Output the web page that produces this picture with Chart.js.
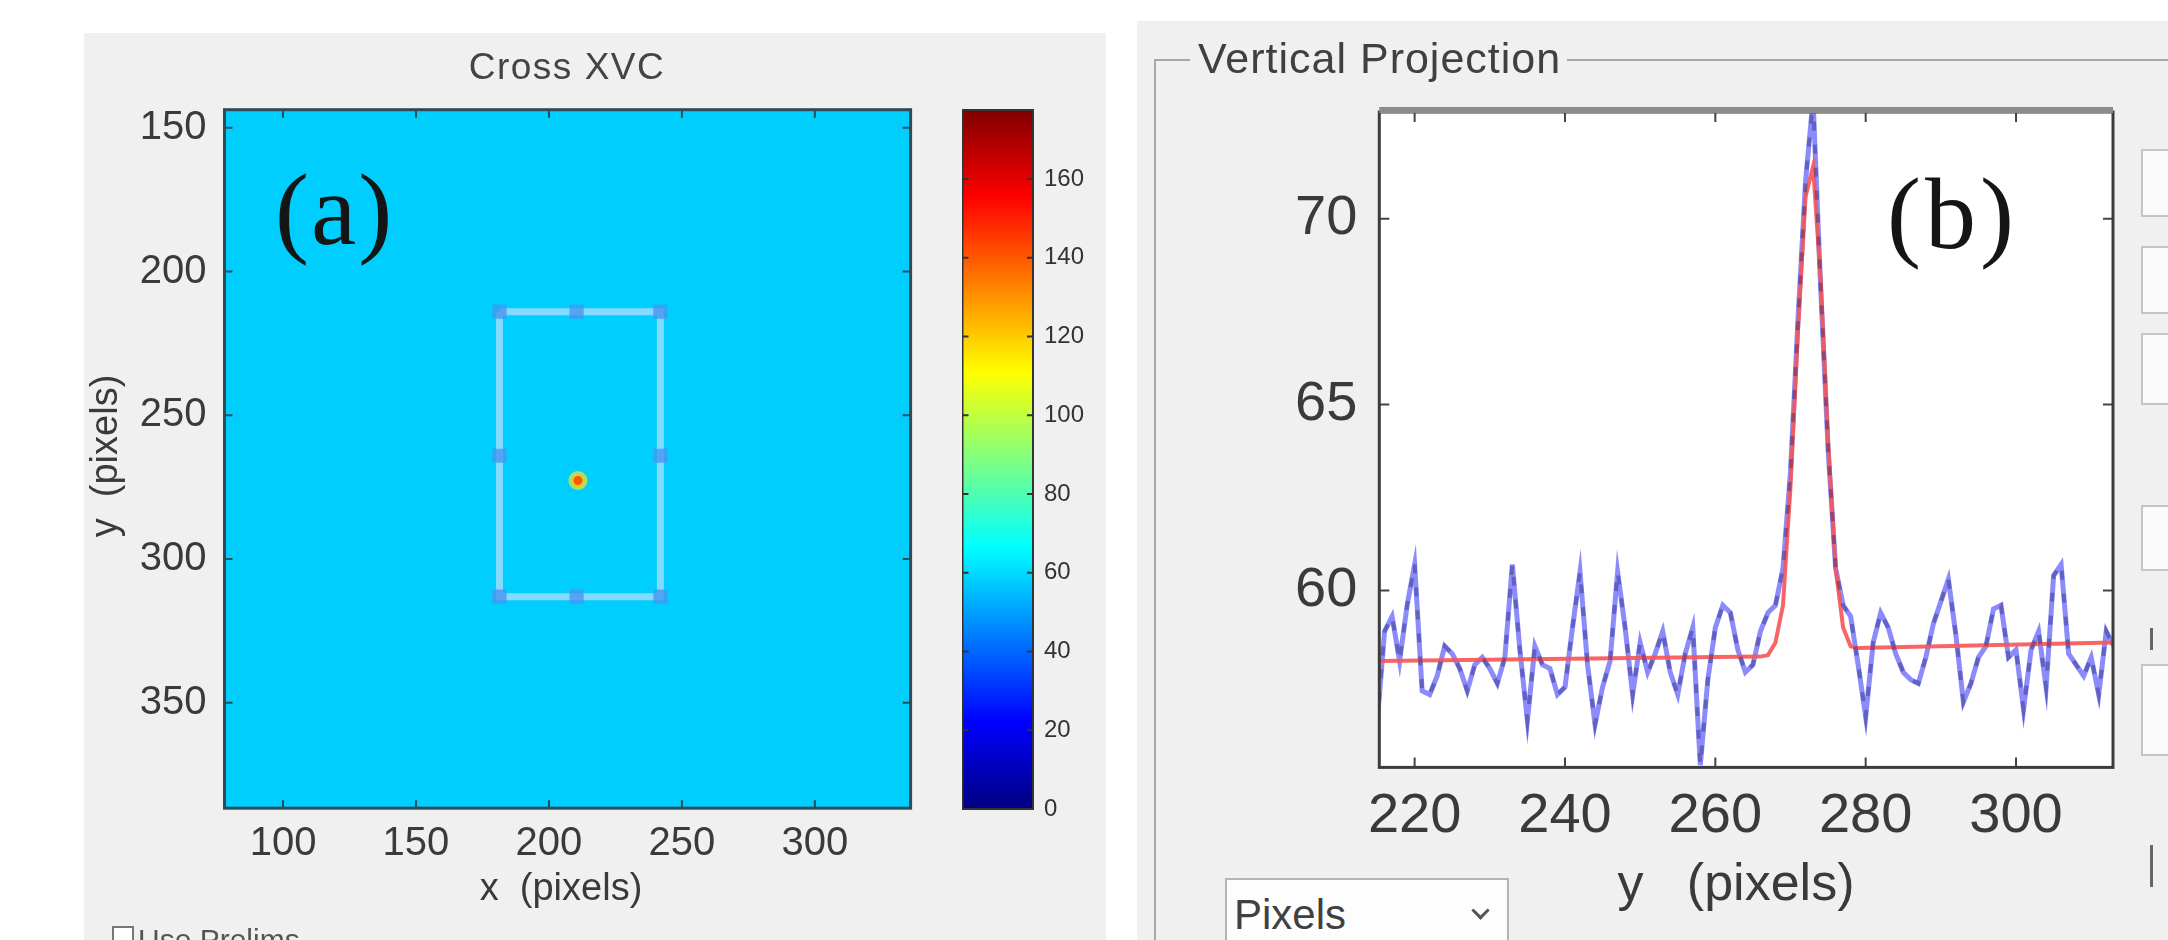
<!DOCTYPE html>
<html>
<head>
<meta charset="utf-8">
<script src="https://cdn.jsdelivr.net/npm/chart.js@4.4.1/dist/chart.umd.min.js"></script>
<style>
  body { margin: 0; width: 2168px; height: 940px; background: #fff; overflow: hidden; position: relative; font-family: "Liberation Sans", Arial, sans-serif; color: #3a3a3a; }
  .abs { position: absolute; }
  .t { position: absolute; white-space: pre; z-index: 5; }
  #leftPanel { left: 84px; top: 33px; width: 1022px; height: 907px; background: #f0f0f0; }
  #rightPanel { left: 1137px; top: 21px; width: 1031px; height: 919px; background: #f0f0f0; }
  #groupTop { left: 1154px; top: 59px; width: 1014px; height: 0; border-top: 2px solid #a8a8a8; }
  #groupLeft { left: 1154px; top: 59px; width: 0; height: 881px; border-left: 2px solid #a8a8a8; }
  .edit { position: absolute; left: 2141px; width: 60px; background: #fbfbfb; border: 2px solid #c4c4c4; }
  .serif { font-family: "Liberation Serif", "Times New Roman", serif; color: #151515; }
</style>
</head>
<body>
<div id="leftPanel" class="abs"></div>
<div id="rightPanel" class="abs"></div>
<div id="groupTop" class="abs"></div>
<div id="groupLeft" class="abs"></div>

<div class="abs" style="left:86px;top:35px;width:880px;height:905px;"><canvas id="heat" width="880" height="905"></canvas></div>
<div class="abs" style="left:962px;top:35px;width:144px;height:905px;"><canvas id="cbar" width="144" height="905"></canvas></div>
<div class="abs" style="left:1154px;top:60px;width:1014px;height:880px;"><canvas id="proj" width="1014" height="880"></canvas></div>

<div class="t" style="left:367px;top:42px;width:400px;height:50px;line-height:50px;text-align:center;font-size:37px;letter-spacing:1.5px;color:#444;">Cross XVC</div>
<div class="t" style="left:411px;top:865px;width:300px;height:44px;line-height:44px;text-align:center;font-size:38px;">x  (pixels)</div>
<div class="t" style="left:-46px;top:434px;width:300px;height:44px;line-height:44px;text-align:center;font-size:38px;transform:rotate(-90deg);">y  (pixels)</div>
<div class="t serif" style="left:275px;top:150px;width:200px;height:120px;line-height:120px;font-size:102px;letter-spacing:2px;">(a)</div>

<div class="t" style="left:1190px;top:35px;height:46px;line-height:46px;font-size:43px;letter-spacing:1px;padding:0 6px 0 8px;background:#f0f0f0;color:#404040;">Vertical Projection</div>
<div class="t" style="left:1536px;top:852px;width:400px;height:60px;line-height:60px;text-align:center;font-size:52px;">y   (pixels)</div>
<div class="t serif" style="left:1887px;top:154px;width:200px;height:120px;line-height:120px;font-size:102px;letter-spacing:4px;">(b)</div>

<div class="abs" style="left:1225px;top:878px;width:280px;height:80px;background:#fdfdfd;border:2px solid #b4b4b4;"></div>
<div class="t" style="left:1234px;top:893px;height:44px;line-height:44px;font-size:42px;color:#404040;">Pixels</div>
<div class="abs" style="left:1474px;top:904px;width:10px;height:10px;border-right:3px solid #555;border-bottom:3px solid #555;transform:rotate(45deg);"></div>

<div class="abs" style="left:112px;top:926px;width:18px;height:18px;border:2px solid #777;background:#fff;"></div>
<div class="t" style="left:138px;top:920px;height:40px;line-height:40px;font-size:30px;color:#555;">Use Prelims</div>

<div class="edit" style="top:149px;height:64px;"></div>
<div class="edit" style="top:246px;height:64px;"></div>
<div class="edit" style="top:333px;height:68px;"></div>
<div class="edit" style="top:505px;height:62px;"></div>
<div class="abs" style="left:2150px;top:628px;width:3px;height:22px;background:#666;"></div>
<div class="edit" style="top:664px;height:88px;"></div>
<div class="abs" style="left:2150px;top:845px;width:3px;height:42px;background:#666;"></div>

<script>
const heatXRange = [78, 336];
const heatYRange = [143.7, 386.7];
const heatXTicks = [100, 150, 200, 250, 300];
const heatYTicks = [150, 200, 250, 300, 350];
const fieldLevel = 58;

const roiX = [181.4, 241.9, 241.9, 181.4, 181.4];
const roiY = [214, 214, 313.1, 313.1, 214];
const handleX = [181.4, 210.4, 241.9, 181.4, 241.9, 181.4, 210.4, 241.9];
const handleY = [214, 214, 214, 264.1, 264.1, 313.1, 313.1, 313.1];
const spotX = [210.9];
const spotY = [272.7];
const spotLevel = 140;

const cbRange = [0, 177.5];
const cbTicks = [0, 20, 40, 60, 80, 100, 120, 140, 160];

const projXRange = [215.3, 312.9];
const projYRange = [55.24, 72.87];
const projXTicks = [220, 240, 260, 280, 300];
const projYTicks = [60, 65, 70];

const projX = [
  215, 216, 217, 218, 219, 220, 221, 222, 223, 224, 225, 226, 227, 228, 229, 230, 231, 232, 233, 234,
  235, 236, 237, 238, 239, 240, 241, 242, 243, 244, 245, 246, 247, 248, 249, 250, 251, 252, 253, 254,
  255, 256, 257, 258, 259, 260, 261, 262, 263, 264, 265, 266, 267, 268, 269, 270, 271, 272, 273, 274,
  275, 276, 277, 278, 279, 280, 281, 282, 283, 284, 285, 286, 287, 288, 289, 290, 291, 292, 293, 294,
  295, 296, 297, 298, 299, 300, 301, 302, 303, 304, 305, 306, 307, 308, 309, 310, 311, 312, 313
];
const projY = [
  56.4, 58.9, 59.3, 58.1, 59.6, 60.7, 57.3, 57.2, 57.7, 58.5, 58.3, 57.9, 57.3, 58.0, 58.2, 57.9, 57.5, 58.2, 60.7, 58.4,
  56.5, 58.5, 58.0, 57.9, 57.2, 57.4, 59.0, 60.5, 58.0, 56.4, 57.4, 58.1, 60.5, 59.0, 57.2, 58.6, 57.8, 58.3, 58.9, 57.8,
  57.2, 58.3, 59.0, 55.3, 57.6, 59.0, 59.6, 59.4, 58.4, 57.8, 58.0, 58.9, 59.4, 59.6, 60.6, 63.2, 67.3, 71.0, 73.2, 68.2,
  63.8, 60.6, 59.6, 59.3, 58.0, 56.6, 58.6, 59.4, 59.0, 58.3, 57.8, 57.6, 57.5, 58.2, 59.1, 59.7, 60.3, 58.8, 57.0, 57.5,
  58.2, 58.5, 59.5, 59.6, 58.2, 58.4, 56.8, 58.4, 58.9, 57.4, 60.4, 60.7, 58.3, 58.0, 57.7, 58.2, 57.2, 58.9, 58.5
];
const fitX = [215, 266, 267, 268, 269, 270, 271, 272, 273, 274, 275, 276, 277, 278, 279, 313];
const fitY = [58.10, 58.22, 58.26, 58.6, 59.6, 62.8, 67.0, 70.6, 71.4, 68.4, 64.0, 60.6, 59.0, 58.5, 58.45, 58.6];

Chart.defaults.font.family = '"Liberation Sans", Arial, sans-serif';
Chart.defaults.color = '#3a3a3a';

function clamp(v) {
  return Math.max(0, Math.min(1, v));
}

function jet(t) {
  const r = clamp(1.5 - Math.abs(4 * t - 3));
  const g = clamp(1.5 - Math.abs(4 * t - 2));
  const b = clamp(1.5 - Math.abs(4 * t - 1));
  return `rgb(${Math.round(r * 255)}, ${Math.round(g * 255)}, ${Math.round(b * 255)})`;
}

function points(xs, ys) {
  return xs.map((x, i) => ({ x: x, y: ys[i] }));
}

function fixedTicks(values) {
  return scale => { scale.ticks = values.map(v => ({ value: v })); };
}

// white plot background and the box with matlab style inward ticks
const boxTicks = {
  id: 'boxTicks',
  beforeDatasetsDraw(chart, args, opts) {
    if (!opts.fill) return;
    const { ctx, chartArea: a } = chart;
    ctx.save();
    ctx.fillStyle = opts.fill;
    ctx.fillRect(a.left, a.top, a.width, a.height);
    ctx.restore();
  },
  afterDatasetsDraw(chart, args, opts) {
    const { ctx, chartArea: a, scales } = chart;
    ctx.save();
    ctx.strokeStyle = opts.tickColor;
    ctx.lineWidth = 2;
    if (opts.xTicks) {
      scales.x.ticks.forEach(t => {
        const px = scales.x.getPixelForValue(t.value);
        ctx.beginPath();
        ctx.moveTo(px, a.bottom); ctx.lineTo(px, a.bottom - opts.len);
        ctx.moveTo(px, a.top); ctx.lineTo(px, a.top + opts.len);
        ctx.stroke();
      });
    }
    scales.y.ticks.forEach(t => {
      const py = scales.y.getPixelForValue(t.value);
      ctx.beginPath();
      ctx.moveTo(a.left, py); ctx.lineTo(a.left + opts.len, py);
      ctx.moveTo(a.right, py); ctx.lineTo(a.right - opts.len, py);
      ctx.stroke();
    });
    ctx.strokeStyle = opts.color;
    ctx.lineWidth = opts.width;
    ctx.strokeRect(a.left, a.top, a.width, a.height);
    if (opts.topColor) {
      ctx.strokeStyle = opts.topColor;
      ctx.lineWidth = opts.topWidth;
      ctx.beginPath();
      ctx.moveTo(a.left, a.top - opts.topWidth / 2 + 1);
      ctx.lineTo(a.right, a.top - opts.topWidth / 2 + 1);
      ctx.stroke();
    }
    ctx.restore();
  }
};

const fieldFill = {
  id: 'fieldFill',
  beforeDatasetsDraw(chart) {
    const { ctx, scales: { x, y } } = chart;
    const x0 = x.getPixelForValue(heatXRange[0]);
    const x1 = x.getPixelForValue(heatXRange[1]);
    const y0 = y.getPixelForValue(heatYRange[0]);
    const y1 = y.getPixelForValue(heatYRange[1]);
    ctx.save();
    ctx.fillStyle = jet(fieldLevel / cbRange[1]);
    ctx.fillRect(x0, y0, x1 - x0, y1 - y0);
    ctx.restore();
  }
};

new Chart(document.getElementById('heat'), {
  type: 'scatter',
  data: {
    datasets: [
      {
        data: points(spotX, spotY),
        pointRadius: 7,
        backgroundColor: jet(spotLevel / cbRange[1]),
        borderColor: 'rgba(200, 228, 70, 0.85)',
        borderWidth: 5
      },
      {
        data: points(handleX, handleY),
        pointStyle: 'rect',
        pointRadius: 10,
        backgroundColor: 'rgba(70, 150, 240, 0.8)',
        borderWidth: 0
      },
      {
        data: points(roiX, roiY),
        showLine: true,
        borderColor: 'rgba(135, 218, 255, 1)',
        borderWidth: 7,
        pointRadius: 0
      }
    ]
  },
  options: {
    responsive: false,
    animation: false,
    events: [],
    layout: { padding: { top: 74.7, right: 55.4, left: 0, bottom: 0 } },
    plugins: {
      legend: { display: false },
      tooltip: { enabled: false },
      boxTicks: { color: '#2e4c58', width: 3, tickColor: '#2e4c58', len: 8, xTicks: true }
    },
    scales: {
      x: {
        type: 'linear',
        min: heatXRange[0],
        max: heatXRange[1],
        afterBuildTicks: fixedTicks(heatXTicks),
        afterFit: s => { s.height = 131.8; },
        grid: { display: false },
        border: { display: false },
        ticks: { font: { size: 40 }, color: '#3a3a3a', padding: 4, maxRotation: 0, autoSkip: false }
      },
      y: {
        type: 'linear',
        reverse: true,
        min: heatYRange[0],
        max: heatYRange[1],
        afterBuildTicks: fixedTicks(heatYTicks),
        afterFit: s => { s.width = 138.5; },
        grid: { display: false },
        border: { display: false },
        ticks: { font: { size: 40 }, color: '#3a3a3a', padding: 10, autoSkip: false }
      }
    }
  },
  plugins: [fieldFill, boxTicks]
});

new Chart(document.getElementById('cbar'), {
  type: 'bar',
  data: {
    labels: ['level'],
    datasets: [{
      data: [cbRange],
      barPercentage: 1,
      categoryPercentage: 1,
      borderWidth: 0,
      backgroundColor: c => {
        const chart = c.chart;
        if (!chart.chartArea) return '#00ccff';
        const y = chart.scales.y;
        const g = chart.ctx.createLinearGradient(0, y.getPixelForValue(cbRange[0]), 0, y.getPixelForValue(cbRange[1]));
        [0.125, 0.375, 0.625, 0.875].forEach(s => {
          g.addColorStop(s, jet(s));
        });
        g.addColorStop(0, 'rgb(0, 0, 128)');
        g.addColorStop(1, 'rgb(128, 0, 0)');
        return g;
      }
    }]
  },
  options: {
    responsive: false,
    animation: false,
    events: [],
    layout: { padding: { top: 75, bottom: 131, left: 0.5, right: 0 } },
    plugins: {
      legend: { display: false },
      tooltip: { enabled: false },
      boxTicks: { color: '#333', width: 2, tickColor: '#333', len: 6, xTicks: false }
    },
    scales: {
      x: { display: false },
      y: {
        position: 'right',
        min: cbRange[0],
        max: cbRange[1],
        afterBuildTicks: fixedTicks(cbTicks),
        afterFit: s => { s.width = 73; },
        grid: { display: false },
        border: { display: false },
        ticks: { font: { size: 24 }, color: '#333', padding: 3, autoSkip: false }
      }
    }
  },
  plugins: [boxTicks]
});

new Chart(document.getElementById('proj'), {
  type: 'line',
  data: {
    datasets: [
      {
        data: points(projX, projY),
        borderColor: 'rgba(35, 35, 110, 0.4)',
        borderWidth: 4,
        borderDash: [9, 14],
        pointRadius: 0,
        order: 0
      },
      {
        data: points(fitX, fitY),
        borderColor: 'rgba(245, 85, 85, 0.9)',
        borderWidth: 4,
        pointRadius: 0,
        order: 1
      },
      {
        data: points(projX, projY),
        borderColor: 'rgba(100, 100, 250, 0.75)',
        borderWidth: 5,
        pointRadius: 0,
        order: 2
      }
    ]
  },
  options: {
    responsive: false,
    animation: false,
    events: [],
    layout: { padding: { top: 52, right: 55, left: 0, bottom: 0 } },
    plugins: {
      legend: { display: false },
      tooltip: { enabled: false },
      boxTicks: { fill: '#ffffff', color: '#3c3c3c', width: 3, tickColor: '#444', len: 10, xTicks: true, topColor: '#8c8c8c', topWidth: 6 }
    },
    scales: {
      x: {
        type: 'linear',
        min: projXRange[0],
        max: projXRange[1],
        afterBuildTicks: fixedTicks(projXTicks),
        afterFit: s => { s.height = 172.6; },
        grid: { display: false },
        border: { display: false },
        ticks: { font: { size: 56 }, color: '#3a3a3a', padding: 8, maxRotation: 0, autoSkip: false }
      },
      y: {
        type: 'linear',
        min: projYRange[0],
        max: projYRange[1],
        afterBuildTicks: fixedTicks(projYTicks),
        afterFit: s => { s.width = 225.3; },
        grid: { display: false },
        border: { display: false },
        ticks: { font: { size: 56 }, color: '#3a3a3a', padding: 14, autoSkip: false }
      }
    }
  },
  plugins: [boxTicks]
});
</script>
</body>
</html>
